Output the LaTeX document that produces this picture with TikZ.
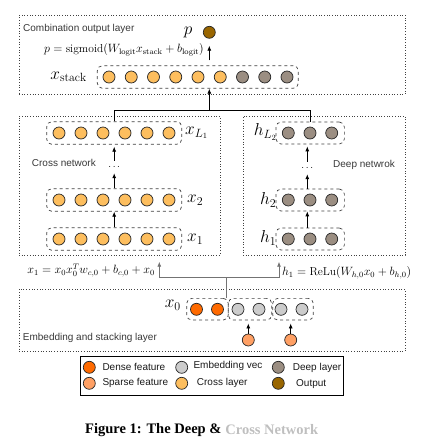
\documentclass[tikz,border=0pt]{standalone}
\usepackage{fontspec}
\setsansfont{Liberation Sans}
\newfontfamily\capfont{Liberation Serif}
\usetikzlibrary{arrows.meta,calc}
\definecolor{crossc}{RGB}{253,190,94}
\definecolor{deepc}{RGB}{155,142,130}
\definecolor{outc}{RGB}{153,102,0}
\definecolor{densec}{RGB}{255,106,0}
\definecolor{sparsec}{RGB}{255,160,100}
\definecolor{embc}{RGB}{204,204,204}
\begin{document}
\begin{tikzpicture}[x=1pt,y=-1pt,
 layerbox/.style={draw=black!75, dotted, line width=0.7pt, inner sep=0},
 grp/.style={draw=black!75, dashed, rounded corners=5pt, line width=0.7pt, inner sep=0, minimum height=22pt},
 nrn/.style={circle, draw=black!85, line width=0.7pt, minimum size=12pt, inner sep=0},
 lbl/.style={font=\sffamily\fontsize{10}{12}\selectfont, text=black!78, inner sep=0, anchor=west},
 mlbl/.style={font=\fontsize{17}{20}\selectfont, inner sep=0},
 eq/.style={font=\fontsize{11.5}{14}\selectfont, inner sep=0},
 arr/.style={-{Latex[length=5pt,width=4pt]}, line width=0.8pt},
 link/.style={line width=0.8pt},
 glink/.style={line width=0.8pt, draw=black!55},
]
\useasboundingbox (0,0) rectangle (422,448);

% ---------- layer boxes ----------
\node[layerbox, minimum width=386pt, minimum height=79pt] (comb) at (212,54.5) {};
\node[layerbox, minimum width=201pt, minimum height=139pt] (crossL) at (119.5,185.5) {};
\node[layerbox, minimum width=162pt, minimum height=139pt] (deepL) at (324,185.5) {};
\node[layerbox, minimum width=386pt, minimum height=62pt] (embL) at (212,320) {};

\node[lbl] (tcomb) at (23,29) {Combination output layer};
\node[lbl] (tcross) at (31.7,163) {Cross network};
\node[lbl] (tdeep) at (333,165) {Deep netwrok};
\node[lbl] (temb) at (22.7,338) {Embedding and stacking layer};

% ---------- combination output ----------
\node[grp, minimum width=201pt, minimum height=22.6pt] (xstack) at (197.8,77) {};
\foreach \i in {0,...,5}{\node[nrn, fill=crossc] (xs\i) at ({109+22.25*\i},77) {};}
\foreach \i in {6,7,8}{\node[nrn, fill=deepc] (xs\i) at ({109+22.25*\i},77) {};}
\node[mlbl, anchor=east] (lxs) at (87,77) {$x_{\mathrm{stack}}$};
\node[nrn, fill=outc] (pn) at (209.3,32.3) {};
\node[mlbl] (lp) at (188,32) {$p$};
\node[eq, anchor=east] (fp) at (204,50) {$p=\mathrm{sigmoid}(W_{\mathrm{logit}}x_{\mathrm{stack}}+b_{\mathrm{logit}})$};
\draw[arr, shorten <=5pt, shorten >=7pt] (xstack.north -| pn) -- (pn.south);

% ---------- cross network ----------
\foreach \r/\y in {L/133,b/200,a/239}{
  \node[grp, minimum width=135pt, minimum height=22.6pt] (xbox\r) at (114.2,\y) {};
  \foreach \i in {0,...,5}{\node[nrn, fill=crossc] (x\r\i) at ({59+22*\i},\y) {};}
}
\node[mlbl, anchor=west] (lxL) at (185,133) {$x_{L_1}$};
\node[mlbl, anchor=west] (lx2) at (187,200) {$x_2$};
\node[mlbl, anchor=west] (lx1) at (187,239) {$x_1$};
\node[minimum height=12pt, inner sep=0, font=\fontsize{10}{12}\selectfont] (cd) at (114.2,167) {$\ldots$};
\draw[arr, shorten >=2pt] (cd.north) -- (xboxL.south);
\draw[arr] (xboxb.north) -- (cd.south);
\draw[arr] (xboxa.north) -- (xboxb.south);

% ---------- deep network ----------
\foreach \r/\y in {L/133,b/200,a/239}{
  \node[grp, minimum width=68.3pt, minimum height=22pt] (hbox\r) at (310.2,\y) {};
  \foreach \i in {0,1,2}{\node[nrn, fill=deepc] (h\r\i) at ({288.3+21.7*\i},\y) {};}
}
\node[mlbl, anchor=east] (lhL) at (277,132) {$h_{L_2}$};
\node[mlbl, anchor=east] (lh2) at (276.5,200) {$h_2$};
\node[mlbl, anchor=east] (lh1) at (276.5,238) {$h_1$};
\node[minimum height=12pt, inner sep=0, font=\fontsize{10}{12}\selectfont] (dd) at (307.3,168) {$\ldots$};
\draw[arr, shorten >=2pt] (dd.north) -- (dd.north |- hboxL.south);
\draw[arr] (dd.south |- hboxb.north) -- (dd.south);
\draw[arr] (dd.south |- hboxa.north) -- (dd.south |- hboxb.south);

% ---------- stacking connector ----------
\draw[link] (xboxL.north) -- ++(0,-11) -| (hboxL.north);
\coordinate (jn) at (209.3,110.7);
\draw[arr] (jn) -- (jn |- xstack.south);

% ---------- embedding layer ----------
\node[grp, minimum width=41.6pt, minimum height=21.7pt] (x0a) at (207.5,309.2) {};
\node[grp, minimum width=43.4pt, minimum height=21.7pt] (x0b) at (250,309.2) {};
\node[grp, minimum width=40.6pt, minimum height=21.7pt] (x0c) at (293,309.2) {};
\node[nrn, fill=densec] (d1) at (196.5,309.3) {};
\node[nrn, fill=densec] (d2) at (217.5,309.3) {};
\node[nrn, fill=embc] (e1) at (238,309.3) {};
\node[nrn, fill=embc] (e2) at (259,309.3) {};
\node[nrn, fill=embc] (e3) at (281,309.3) {};
\node[nrn, fill=embc] (e4) at (302,309.3) {};
\node[mlbl, anchor=east] (lx0) at (181,305) {$x_0$};
\node[nrn, fill=sparsec] (s1) at (248.3,340) {};
\node[nrn, fill=sparsec] (s2) at (290.7,340) {};
\draw[arr, shorten >=3pt] (s1.north) -- (s1.north |- x0b.south);
\draw[arr, shorten >=3pt] (s2.north) -- (s2.north |- x0c.south);

% ---------- input connector ----------
\coordinate (sp) at (226,277.7);
\coordinate (ta) at (159.3,261.7);
\coordinate (tb) at (279,261.7);
\draw[glink] (x0a.north -| sp) -- (sp);
\draw[glink, arr] (sp) -| (ta);
\draw[glink, arr] (sp) -| (tb);
\node[eq, anchor=east] (fx1) at (155,270.7) {$x_1=x_0x_0^Tw_{c,0}+b_{c,0}+x_0$};
\node[eq, anchor=west] (fh1) at (282,272.7) {$h_1=\mathrm{ReLu}(W_{h,0}x_0+b_{h,0})$};

% ---------- legend ----------
\node[draw, line width=0.9pt, minimum width=262.6pt, minimum height=39pt, inner sep=0] (leg) at (212,375.5) {};
\node[nrn, fill=densec] (ld1) at (89.3,367.3) {};
\node[lbl, text=black!90] (lt1) at (102.3,367.3) {Dense feature};
\node[nrn, fill=sparsec] (ld2) at (89.3,383.3) {};
\node[lbl, text=black!90] (lt2) at (102.3,383.3) {Sparse feature};
\node[nrn, fill=embc] (ld3) at (181.7,367.3) {};
\node[lbl, text=black!90] (lt3) at (193.3,366.3) {Embedding vec};
\node[nrn, fill=crossc] (ld4) at (181.7,383.3) {};
\node[lbl, text=black!90] (lt4) at (196.7,383) {Cross layer};
\node[nrn, fill=deepc] (ld5) at (278.3,367.3) {};
\node[lbl, text=black!90] (lt5) at (292.7,368.3) {Deep layer};
\node[nrn, fill=outc] (ld6) at (278.3,383.3) {};
\node[lbl, text=black!90] (lt6) at (296,384) {Output};

% ---------- caption ----------
\node[anchor=west, inner sep=0, font=\capfont\bfseries\fontsize{14.5}{17}\selectfont] (cap) at (85,430) {Figure 1: The Deep \&};
\node[anchor=west, inner sep=0, text=black!25, font=\capfont\bfseries\fontsize{14.5}{17}\selectfont] (cap2) at ([xshift=3.6pt]cap.east) {Cross Network};
\end{tikzpicture}
\end{document}
